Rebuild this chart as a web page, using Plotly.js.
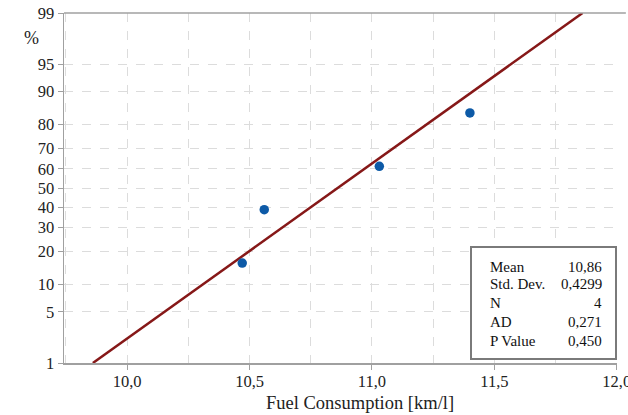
<!DOCTYPE html>
<html><head><meta charset="utf-8">
<script src="https://cdn.plot.ly/plotly-3.0.1.min.js"></script>
<style>html,body{margin:0;padding:0;background:#fff}#chart{width:628px;height:415px}</style>
</head><body><div id="chart"></div>
<script>
// ---- data ----
const fuelConsumption = [10.47, 10.56, 11.03, 11.40];     // km/l
const cumulativePercent = [15.91, 38.64, 61.36, 84.09];   // median ranks, %
const probTicks = [1, 5, 10, 20, 30, 40, 50, 60, 70, 80, 90, 95, 99];
const xTickVals = [10.0, 10.5, 11.0, 11.5, 12.0];
const xTickText = ['10,0', '10,5', '11,0', '11,5', '12,0'];
const statLabels = ['Mean', 'Std. Dev.', 'N', 'AD', 'P Value'];
const statValues = ['10,86', '0,4299', '4', '0,271', '0,450'];
const fitMean = 10.86, fitSd = 0.4299;
const fitPercentEnds = [1, 99];

// inverse standard normal CDF (Acklam) – probability-axis transform
function normInv(p){
  const a=[-3.969683028665376e+01,2.209460984245205e+02,-2.759285104469687e+02,1.383577518672690e+02,-3.066479806614716e+01,2.506628277459239e+00];
  const b=[-5.447609879822406e+01,1.615858368580409e+02,-1.556989798598866e+02,6.680131188771972e+01,-1.328068155288572e+01];
  const c=[-7.784894002430293e-03,-3.223964580411365e-01,-2.400758277161838e+00,-2.549732539343734e+00,4.374664141464968e+00,2.938163982698783e+00];
  const d=[7.784695709041462e-03,3.224671290700398e-01,2.445134137142996e+00,3.754408661907416e+00];
  const pl=0.02425, ph=1-pl; let q,r;
  if(p<pl){q=Math.sqrt(-2*Math.log(p));return (((((c[0]*q+c[1])*q+c[2])*q+c[3])*q+c[4])*q+c[5])/((((d[0]*q+d[1])*q+d[2])*q+d[3])*q+1);}
  if(p<=ph){q=p-0.5;r=q*q;return (((((a[0]*r+a[1])*r+a[2])*r+a[3])*r+a[4])*r+a[5])*q/(((((b[0]*r+b[1])*r+b[2])*r+b[3])*r+b[4])*r+1);}
  q=Math.sqrt(-2*Math.log(1-p));return -(((((c[0]*q+c[1])*q+c[2])*q+c[3])*q+c[4])*q+c[5])/((((d[0]*q+d[1])*q+d[2])*q+d[3])*q+1);
}
const z = p => normInv(p/100);

const fitZ = fitPercentEnds.map(z);
const fitX = fitZ.map(v => fitMean + fitSd*v);

const serif = 'Liberation Serif, Times New Roman, serif';
const traces = [
  {x: fitX, y: fitZ, mode:'lines', line:{color:'#861818', width:2.5}, hoverinfo:'skip'},
  {x: fuelConsumption, y: cumulativePercent.map(z), mode:'markers',
   marker:{color:'#0d5aa7', size:9.5}}
];

const pxX = px => (px-64)/553, pxY = py => (363-py)/350;
const rowsY = [267, 284, 303, 322, 341];
const annotations = [
  {text:'%', xref:'paper', yref:'paper', x:pxX(22), y:pxY(26), showarrow:false,
   font:{family:serif, size:18, color:'#222'}},
  {text:'Fuel Consumption [km/l]', xref:'paper', yref:'paper', x:pxX(360), y:pxY(403), yanchor:'middle', showarrow:false,
   font:{family:serif, size:18.5, color:'#222'}}
];
statLabels.forEach((s,i)=>{
  annotations.push({text:s, xref:'paper', yref:'paper', x:pxX(488), y:pxY(rowsY[i]), xanchor:'left', yanchor:'middle', showarrow:false, font:{family:serif, size:15, color:'#111'}});
  annotations.push({text:statValues[i], xref:'paper', yref:'paper', x:pxX(604), y:pxY(rowsY[i]), xanchor:'right', yanchor:'middle', showarrow:false, font:{family:serif, size:15, color:'#111'}});
});

const layout = {
  width:628, height:415, showlegend:false,
  paper_bgcolor:'#fff', plot_bgcolor:'#fff',
  margin:{l:64, r:11, t:13, b:52},
  xaxis:{range:[9.742, 12.0008], tickvals:xTickVals, ticktext:xTickText,
    showgrid:true, gridcolor:'#dcdcdc', griddash:'dash', gridwidth:1,
    minor:{dtick:0.25, tick0:0, showgrid:true, gridcolor:'#dcdcdc', griddash:'dash', ticks:''},
    showline:true, linecolor:'#a0a0a0', linewidth:1.5, ticks:'outside', ticklen:5, tickcolor:'#a0a0a0',
    ticklabeloverflow:'allow', ticklabelstandoff:-2,
    zeroline:false, tickfont:{family:serif, size:16.5, color:'#222'}},
  yaxis:{range:[z(1), z(99)], tickvals:probTicks.map(z), ticktext:probTicks.map(String),
    showgrid:true, gridcolor:'#dcdcdc', griddash:'dash', gridwidth:1,
    showline:true, linecolor:'#a0a0a0', linewidth:1.5, ticks:'outside', ticklen:5, tickcolor:'#a0a0a0',
    zeroline:false, tickfont:{family:serif, size:16.5, color:'#222'}},
  shapes:[
    {type:'line', xref:'paper', yref:'paper', x0:0, x1:1.016, y0:1, y1:1, line:{color:'#a0a0a0', width:1.5}},
    {type:'rect', xref:'paper', yref:'paper', x0:pxX(471), x1:pxX(616), y0:pxY(359), y1:pxY(247),
     fillcolor:'#fff', line:{color:'#7a7a7a', width:2}, layer:'above'}
  ],
  annotations
};
Plotly.newPlot('chart', traces, layout, {displayModeBar:false, staticPlot:true});
</script></body></html>
